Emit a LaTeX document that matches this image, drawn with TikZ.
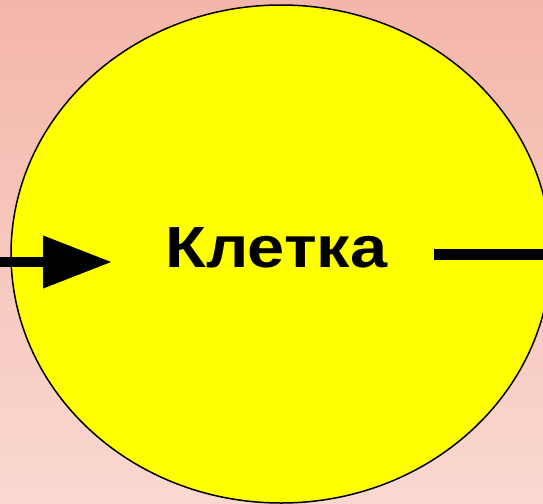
\documentclass[tikz,border=0pt]{standalone}
\usepackage{fontspec}
\setmainfont{Liberation Sans}
\usepackage{xcolor}
\usepackage{tikz}
\usetikzlibrary{positioning, shapes.geometric, arrows.meta}

\definecolor{bgtop}{RGB}{244,182,170}
\definecolor{bgbottom}{RGB}{250,216,208}
\definecolor{cellyellow}{RGB}{255,255,0}

\tikzset{
  cellshape/.style={draw=black, line width=1.5pt, ellipse, fill=cellyellow,
    minimum width=540pt, minimum height=498pt, inner sep=0pt},
  flowline/.style={line width=10.5pt, black}
}

\begin{document}
\begin{tikzpicture}[x=1pt, y=-1pt]
        % frame and background
        \useasboundingbox (0,0) rectangle (543,503);
        \shade[top color=bgtop, bottom color=bgbottom] (0,0) rectangle (543,503);

        % cell
        \node[cellshape] (cell) at (281,254) {};
        \node[anchor=base, font=\fontsize{58}{60}\selectfont\bfseries] (label) at (276.5,267) {\scalebox{1.15}[1]{Клетка}};

        % input and output
        \coordinate (inStart) at (0,262);
        \coordinate (inEnd) at (112,262);
        \draw[flowline, -{Triangle[length=69pt, width=50pt]}] (inStart) -- (inEnd);

        \coordinate (outStart) at (434,254.5);
        \coordinate (outEnd) at (543,254.5);
        \draw[flowline] (outStart) -- (outEnd);
      \end{tikzpicture}
\end{document}
